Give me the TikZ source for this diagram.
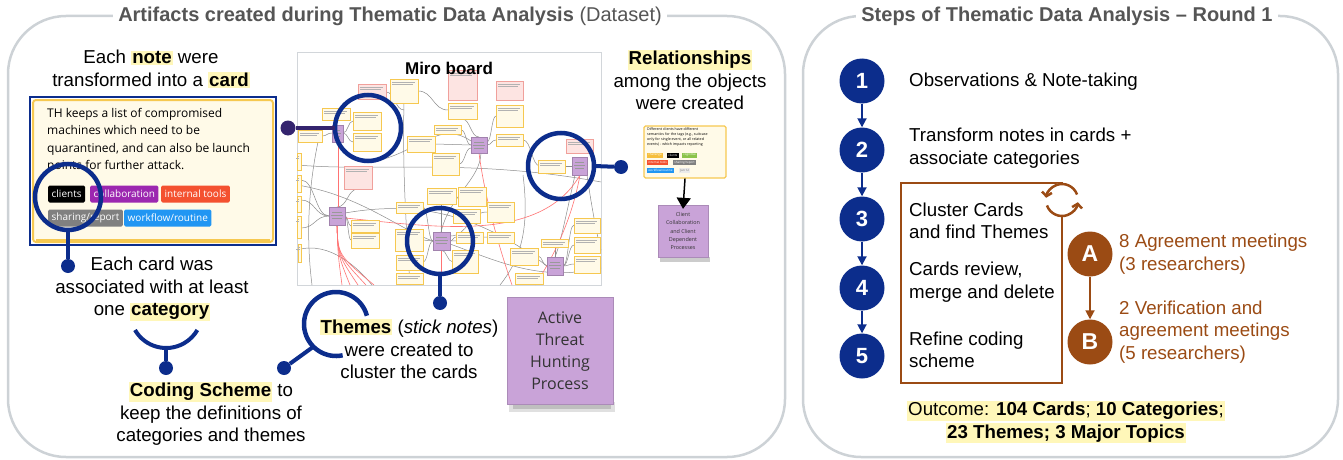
\documentclass[tikz,border=0pt]{standalone}
\usepackage{fontspec}
\setmainfont{Liberation Sans}
\newfontfamily\notefont{Open Sans}
\usetikzlibrary{arrows.meta}

\definecolor{navy}{RGB}{12,45,140}
\definecolor{indigo}{RGB}{52,36,110}
\definecolor{rust}{RGB}{155,75,20}
\definecolor{hlyellow}{RGB}{255,247,185}
\definecolor{framegray}{RGB}{205,210,214}
\definecolor{titlegray}{RGB}{85,85,85}
\definecolor{notefill}{RGB}{255,250,232}
\definecolor{noteedge}{RGB}{246,200,80}
\definecolor{pinkfill}{RGB}{253,228,226}
\definecolor{pinkedge}{RGB}{240,160,155}
\definecolor{stickfill}{RGB}{201,163,216}
\definecolor{tagpurple}{RGB}{156,39,176}
\definecolor{tagred}{RGB}{244,81,48}
\definecolor{taggray}{RGB}{128,128,128}
\definecolor{tagblue}{RGB}{33,150,243}
\definecolor{taggreen}{RGB}{139,195,74}
\definecolor{tagyellow}{RGB}{245,190,60}

\newcommand{\hlword}[1]{{\setlength{\fboxsep}{1pt}\colorbox{hlyellow}{\textbf{#1}}}}
\newcommand{\hlline}[1]{{\setlength{\fboxsep}{1.5pt}\colorbox{hlyellow}{#1\vphantom{Ag}}}}

\begin{document}
\begin{tikzpicture}[x=1pt,y=-1pt,
    panel/.style={draw=framegray,line width=2.5pt,rounded corners=58pt},
    paneltitle/.style={fill=white,inner xsep=5pt,inner ysep=2pt,text=titlegray,font=\fontsize{20}{22}\selectfont},
    caption/.style={align=center,font=\fontsize{18.7}{22.5}\selectfont},
    steptext/.style={anchor=west,align=left,font=\fontsize{18.7}{22.5}\selectfont},
    ring/.style={draw=navy,line width=4.5pt},
    handle/.style={draw=navy,line width=4pt},
    knob/.style={circle,fill=navy,minimum size=14pt},
    cardtag/.style={fill=#1,text=white,rounded corners=1.5pt,inner xsep=3.5pt,minimum height=17pt,font=\notefont\fontsize{10}{10}\selectfont,anchor=west},
    tinytag/.style={fill=#1,text=white,inner xsep=1.2pt,minimum height=5pt,font=\notefont\fontsize{3}{3}\selectfont,anchor=west},
    mironote/.style={draw=noteedge,fill=notefill,line width=0.6pt},
    miropink/.style={draw=pinkedge,fill=pinkfill,line width=0.6pt},
    miropurple/.style={draw=stickfill!80!black,fill=stickfill,line width=0.4pt},
    miroline/.style={draw=black!45,line width=0.5pt},
    mirored/.style={draw=red!55,line width=0.6pt},
    stepdot/.style={circle,fill=navy,minimum size=45pt,text=white,font=\fontsize{22}{22}\selectfont\bfseries},
    steparrow/.style={draw=navy,line width=1.8pt,-{Triangle[width=9pt,length=9pt]}},
    badge/.style={circle,fill=rust,minimum size=45pt,text=white,font=\fontsize{23}{23}\selectfont\bfseries},
    ]
    \tikzstyle{every node}+=[inner sep=0pt]
    \useasboundingbox (0,0) rectangle (1343,460);

    \draw[panel] (8,16) rectangle (785,457);
    \node[paneltitle] (lefttitle) at (390,16) {\textbf{Artifacts created during Thematic Data Analysis} (Dataset)};
    \draw[panel] (803,16) rectangle (1338,457);
    \node[paneltitle] (righttitle) at (1067,16) {\textbf{Steps of Thematic Data Analysis – Round 1}};

    \node[caption] (notecap) at (151,69) {Each \hlword{note} were\\transformed into a \hlword{card}};
    \draw[navy,line width=1.5pt] (30,97) rectangle (276,245);
    \draw[noteedge,fill=notefill,line width=2pt,rounded corners=3pt] (33,100) rectangle (273,242);
    \draw[noteedge,line width=3.5pt] (36,241) -- (270,241);
    \node[anchor=north west,align=left,font=\notefont\fontsize{12}{17.4}\selectfont] (cardtext) at (47,108)
        {TH keeps a list of compromised\\machines which need to be\\quarantined, and can also be launch\\points for further attack.};
    \node[cardtag=black] (tclients) at (48,194) {clients};
    \node[cardtag=tagpurple] (tcollab) at (90,194) {collaboration};
    \node[cardtag=tagred] (tinternal) at (161,194) {internal tools};
    \node[cardtag=taggray] (tsharing) at (48,218) {sharing/report};
    \node[cardtag=tagblue] (tworkflow) at (124,218) {workflow/routine};
    \draw[ring] (68,197) circle (33);
    \coordinate (cardring) at (68,230);
    \node[knob] (cardknob) at (68,266) {};
    \draw[handle] (cardring) -- (cardknob);

    \node[caption] (catcap) at (152,289) {Each card was\\associated with at least\\one \hlword{category}};
    \draw[handle] (135,330) arc (150:30:36);
    \coordinate (catarc) at (166,348);
    \node[knob] (catknob) at (166,368) {};
    \draw[handle] (catarc) -- (catknob);
    \node[caption] (codecap) at (211,414) {\hlword{Coding Scheme} to\\keep the definitions of\\categories and themes};

    \draw[ring] (336,324) ++(-15:32) arc (-15:-282:32);
    \coordinate (themering) at (313,347);
    \node[knob] (themeknob) at (284,368) {};
    \draw[handle] (themering) -- (themeknob);
    \node[caption] (themecap) at (409,349) {\hlword{Themes} (\textit{stick notes})\\were created to\\cluster the cards};

    \fill[black!12] (509,402) rectangle (615,412);
    \fill[black!25] (513,403) rectangle (611,409);
    \node[draw=stickfill!85!black,line width=0.3pt,fill=stickfill,minimum width=106pt,minimum height=107pt,align=center,text=black!80,font=\notefont\fontsize{16}{22}\selectfont] (athp) at (560,351) {Active\\Threat\\Hunting\\Process};

    \draw[framegray!90,line width=1pt,fill=white] (297,53) rectangle (601,285);
    \begin{scope}
    \clip (297,53) rectangle (601,285);
    \foreach \xa/\ya/\xb/\yb in {343/133/353/121,343/133/353/142,332/133/322/136,479/137/462/119,487/145/496/140,487/142/496/116,
        471/145/461/130,471/145/435/144,471/148/459/164,572/166/565/166,345/216/351/226,345/216/351/240,329/216/301/200,
        329/216/301/180,329/216/301/228,337/207/358/189,433/241/423/240,433/241/423/262,450/241/456/237,450/241/487/237,
        441/250/453/262,433/241/423/207,450/236/487/212,547/266/538/256,563/266/574/225,563/266/574/245,563/266/574/264,
        523/140/540/166,418/91/448/110,386/92/404/110}
        \draw[miroline] (\xa,\ya) .. controls ({(\xa+\xb)/2},\ya) and ({(\xa+\xb)/2},\yb) .. (\xb,\yb);
    \draw[miroline] (404,103) .. controls (402,180) and (408,250) .. (410,285);
    \draw[miroline] (297,165) .. controls (380,172) and (470,158) .. (601,182);
    \draw[miroline] (297,185) .. controls (360,195) and (400,230) .. (433,241);
    \draw[miroline] (345,213) .. controls (420,200) and (480,215) .. (547,266);
    \draw[miroline] (297,250) .. controls (330,240) and (360,270) .. (372,285);
    \draw[miroline] (450,244) .. controls (500,262) and (540,282) .. (601,268);
    \draw[miroline] (575,175) .. controls (565,220) and (560,245) .. (555,257);
    \draw[miroline] (318,142) .. controls (310,180) and (305,230) .. (312,285);
    \draw[miroline] (481,153) .. controls (480,180) and (450,195) .. (441,232);
    \draw[miroline] (441,232) -- (441,204);
    \draw[miroline] (380,160) .. controls (420,150) and (440,120) .. (471,141);
    \draw[miroline] (555,257) -- (555,247);
    \draw[miroline] (587,175) .. controls (592,210) and (598,240) .. (601,250);
    \draw[miroline] (523,175) .. controls (530,230) and (520,260) .. (500,285);
    \draw[mirored] (338,142) -- (338,207);
    \foreach \xe in {342,350,358,366,374}
        \draw[mirored] (337,225) .. controls (338,255) .. (\xe,285);
    \draw[mirored] (345,218) .. controls (430,226) and (540,245) .. (580,175);
    \draw[mirored] (479,153) .. controls (485,200) and (500,250) .. (512,285);
    \draw[mirored] (441,250) -- (441,285);
    \draw[mirored] (580,175) .. controls (570,230) and (545,270) .. (535,285);
    \end{scope}
    \foreach \xa/\ya/\xb/\yb in {390/79/418/103,322/108/350/120,298/130/322/142,353/112/381/130,353/133/381/151,448/103/477/119,
        496/105/523/127,434/125/461/134,407/136/435/152,496/134/523/146,432/153/459/175,538/160/565/173,297/153/301/170,
        297/175/301/192,297/196/301/212,297/216/301/238,351/220/379/232,351/233/379/248,396/202/423/213,427/188/456/204,
        458/187/486/206,453/209/480/223,487/202/514/222,395/229/423/251,456/232/483/243,487/232/514/243,452/250/478/273,
        396/255/423/270,510/248/538/265,541/239/568/247,574/218/600/233,574/237/600/253,574/256/600/273,515/273/543/284,
        396/273/423/284,298/244/301/262}{
        \draw[mironote] (\xa,\ya) rectangle (\xb,\yb);
        \draw[black!30,line width=0.35pt] (\xa+2,\ya+3) -- (\xb-3,\ya+3) (\xa+2,\ya+5.5) -- (\xb-5,\ya+5.5);
    }
    \foreach \xa/\ya/\xb/\yb in {358/84/386/99,448/70/477/100,496/81/523/100,344/166/372/189,566/139/593/153}{
        \draw[miropink] (\xa,\ya) rectangle (\xb,\yb);
        \draw[black!30,line width=0.35pt] (\xa+2,\ya+3) -- (\xb-3,\ya+3) (\xa+2,\ya+5.5) -- (\xb-5,\ya+5.5);
    }
    \foreach \xa/\ya/\xb/\yb in {332/125/343/142,471/137/487/153,572/157/587/175,329/207/345/225,433/232/450/250,547/257/563/275}{
        \draw[miropurple] (\xa,\ya) rectangle (\xb,\yb);
        \draw[black!40,line width=0.3pt] (\xa+3,\ya+5) -- (\xb-3,\ya+5) (\xa+2,\ya+8) -- (\xb-2,\ya+8) (\xa+3,\ya+11) -- (\xb-3,\ya+11);
    }
    \node[font=\fontsize{17}{17}\selectfont\bfseries] (mirotitle) at (449,68) {Miro board};

    \draw[ring] (368,128) circle (33);
    \coordinate (boardring) at (335,128);
    \node[knob,fill=indigo,minimum size=15pt] (boardknob) at (288,128) {};
    \draw[handle,draw=indigo] (boardknob) -- (boardring);
    \draw[ring] (561,166) circle (33);
    \coordinate (relring) at (594,166);
    \node[knob] (relknob) at (621,167) {};
    \draw[handle] (relring) -- (relknob);
    \draw[ring] (440,241) circle (33);
    \coordinate (themeboardring) at (440,274);
    \node[knob] (themeboardknob) at (440,303) {};
    \draw[handle] (themeboardring) -- (themeboardknob);

    \node[caption] (relcap) at (690,80) {\hlword{Relationships}\\among the objects\\were created};
    \node[draw=noteedge,fill=notefill,line width=1.2pt,rounded corners=1.5pt,minimum width=82pt,minimum height=52pt] (relcard) at (685,152) {};
    \node[anchor=north west,align=left,font=\notefont\fontsize{3.6}{4.7}\selectfont] (reltext) at (647,128)
        {Different clients have different\\semantics for the tags (e.g., suitcase\\only for single event, or all related\\events) - which impacts reporting};
    \node[tinytag=tagyellow] (rchallenge) at (647,155) {challenge};
    \node[tinytag=black] (rclients) at (667,155) {clients};
    \node[tinytag=taggreen] (rcognitive) at (682,155) {cognitive};
    \node[tinytag=tagred] (rinternal) at (647,162.5) {internal tools};
    \node[tinytag=taggray] (rsharing) at (673,162.5) {sharing/report};
    \node[tinytag=tagblue] (rworkflow) at (647,170.5) {workflow/routine};
    \node[tinytag=black!8,text=black!60] (rdate) at (679,170.5) {Jun 12};
    \fill[black!20] (660,257) rectangle (710,262);
    \node[draw=stickfill!85!black,line width=0.3pt,fill=stickfill,minimum width=50pt,minimum height=52pt,align=center,text=black!80,font=\notefont\fontsize{5.4}{8.2}\selectfont] (clientnote) at (683,231) {Client\\Collaboration\\and Client\\Dependent\\Processes};
    \draw[black,line width=1.5pt,-{Triangle[width=14pt,length=11pt]}] (relcard.south) -- ([yshift=-4pt]clientnote.north);

    \foreach \i/\y in {1/81,2/150,3/219,4/288,5/356}
        \node[stepdot] (s\i) at (862,\y) {\i};
    \foreach \i/\j in {1/2,2/3,3/4,4/5}
        \draw[steparrow] (s\i) -- (s\j);
    \node[steptext] (t1) at (909,82) {Observations \& Note-taking};
    \node[steptext] (t2) at (909,148) {Transform notes in cards +\\associate categories};
    \draw[rust,line width=2pt] (901,183) rectangle (1062,383);
    \fill[white] (1062,200) circle (17);
    \draw[rust,line width=2.5pt,-{Straight Barb[length=4pt,width=10pt]}] (1062,200) ++(-20:16) arc (-20:-172:16);
    \draw[rust,line width=2.5pt,-{Straight Barb[length=4pt,width=10pt]}] (1062,200) ++(160:16) arc (160:8:16);
    \node[steptext] (t3) at (909,221) {Cluster Cards\\and find Themes};
    \node[steptext] (t4) at (909,282) {Cards review,\\merge and delete};
    \node[steptext] (t5) at (909,350) {Refine coding\\scheme};

    \node[badge] (bA) at (1090,254) {A};
    \node[badge] (bB) at (1090,342) {B};
    \draw[rust,line width=1.8pt,-{Triangle[width=9pt,length=9pt]}] (bA) -- (bB);
    \node[steptext,text=rust] (meetA) at (1119,254) {8 Agreement meetings\\(3 researchers)};
    \node[steptext,text=rust] (meetB) at (1119,332) {2 Verification and\\agreement meetings\\(5 researchers)};
    \node[align=center,font=\fontsize{18.7}{22.5}\selectfont] (outcome) at (1066,422)
        {\hlline{Outcome: \textbf{104 Cards}; \textbf{10 Categories};}\\\hlline{\textbf{23 Themes; 3 Major Topics}}};
\end{tikzpicture}
\end{document}
